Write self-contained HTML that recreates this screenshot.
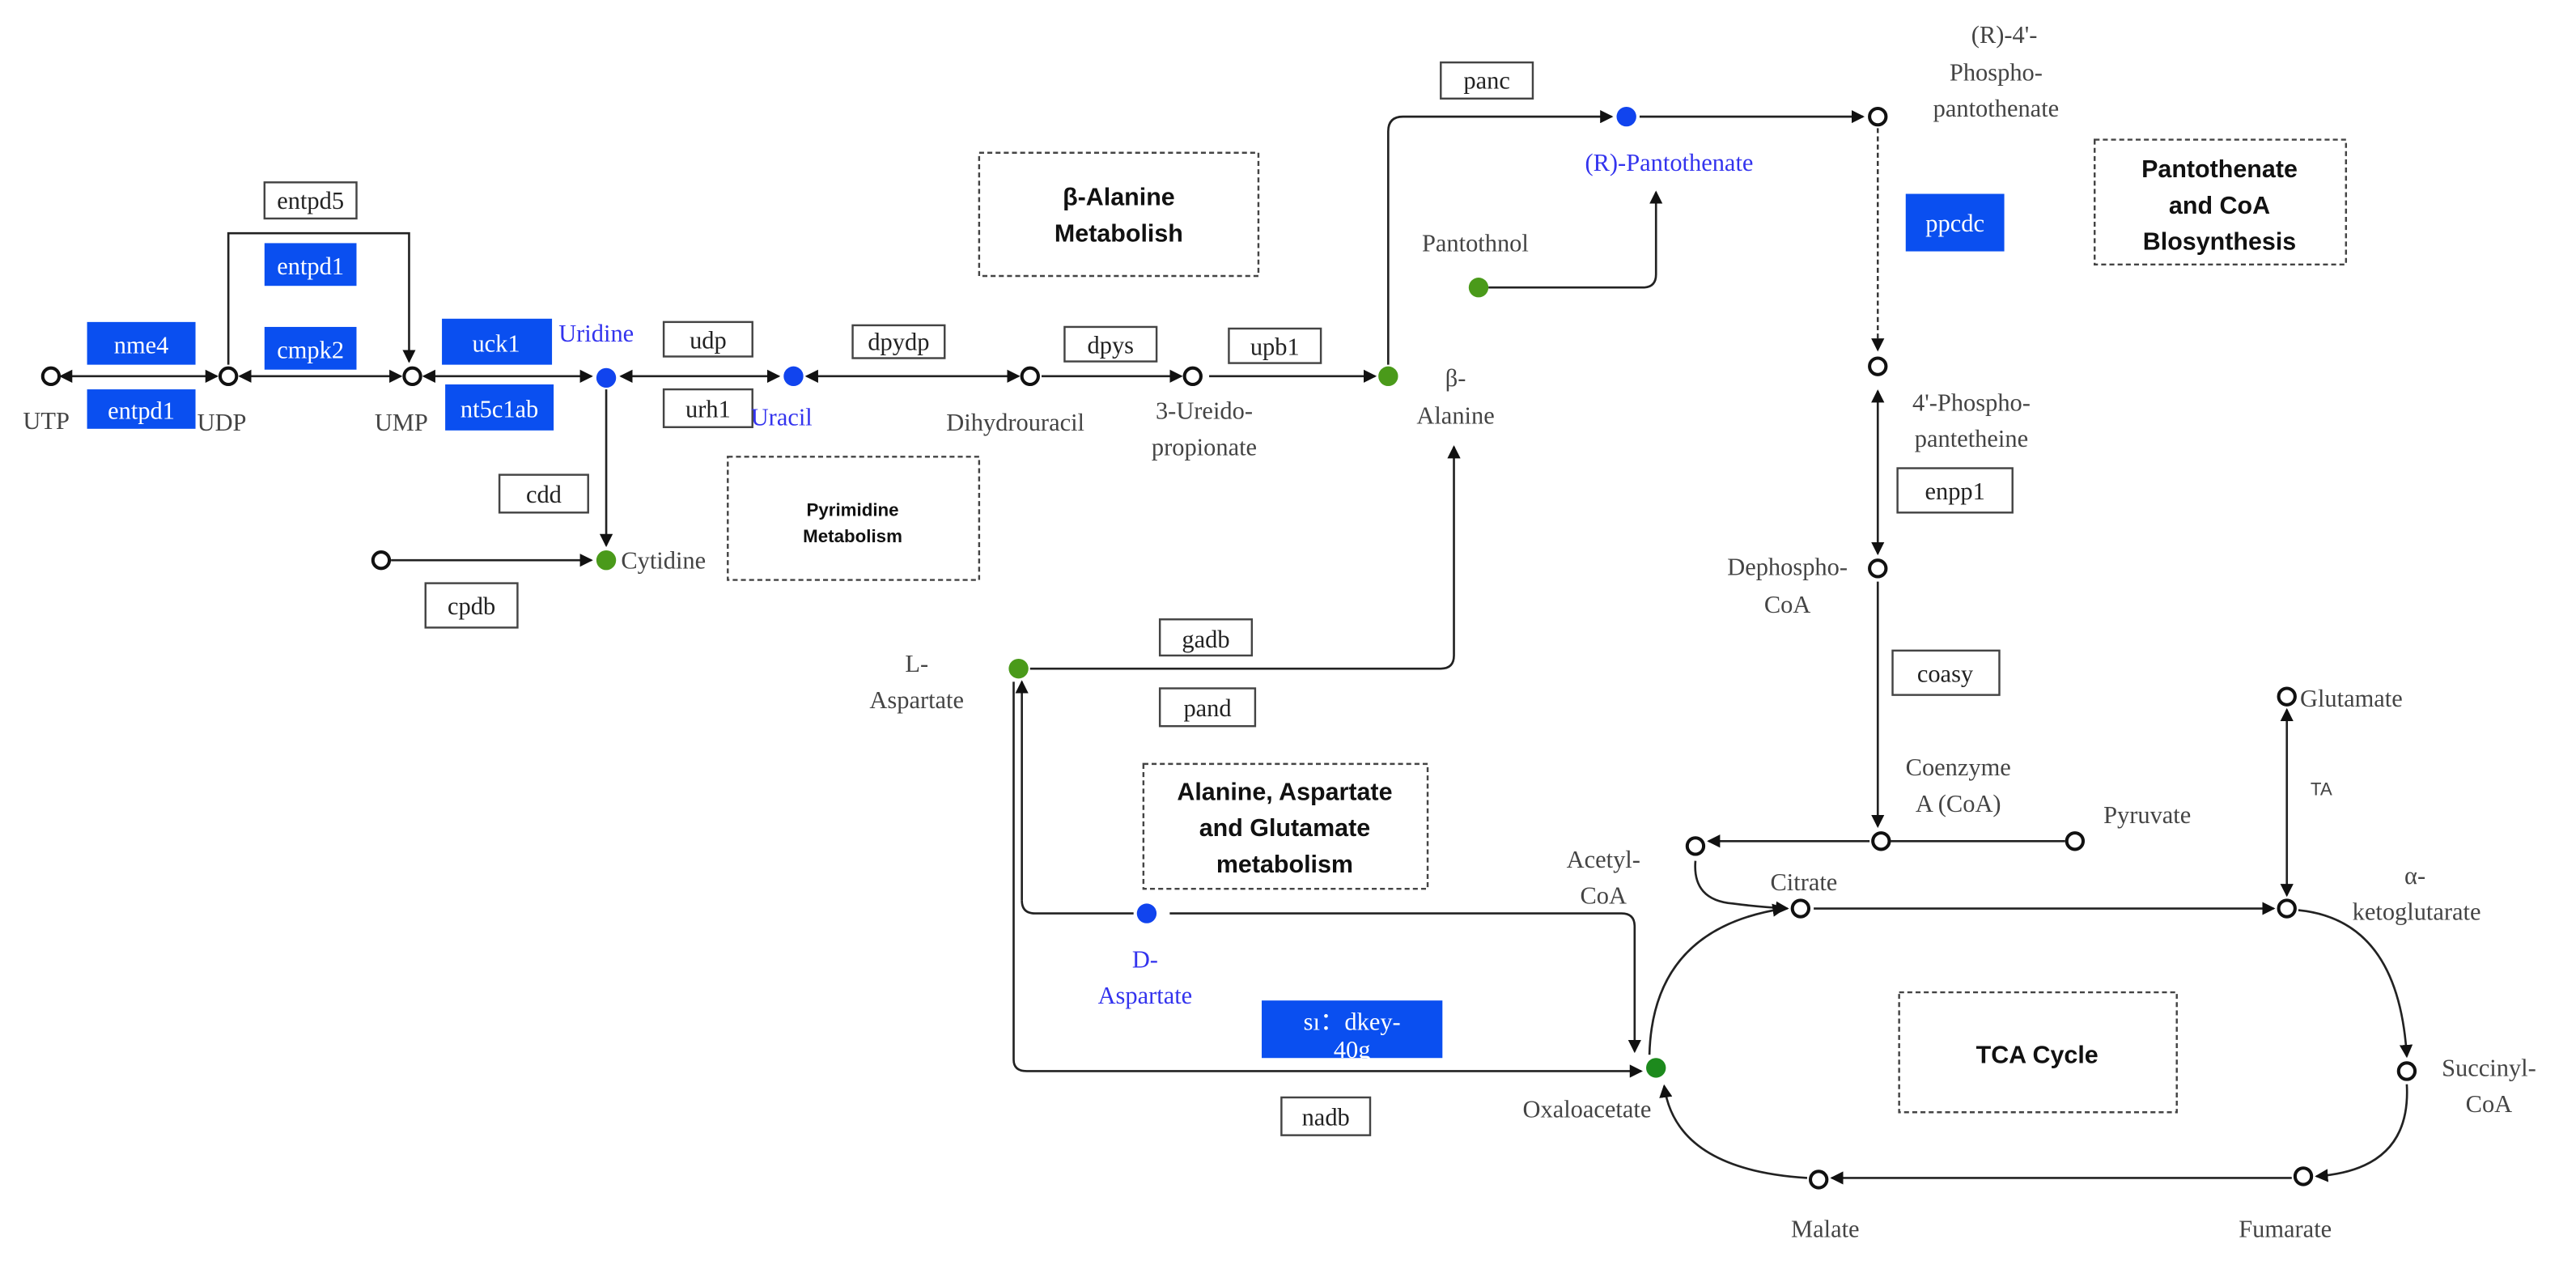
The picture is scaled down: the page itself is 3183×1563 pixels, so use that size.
<!DOCTYPE html>
<html><head><meta charset="utf-8"><style>
html,body{margin:0;padding:0;background:#fff;}
svg{display:block;}
.t{font-family:"Liberation Serif",serif;font-size:15px;fill:#444;}
.b{font-family:"Liberation Serif",serif;font-size:15px;fill:#3333ee;}
.w{font-family:"Liberation Serif",serif;font-size:15px;fill:#fff;}
.h{font-family:"Liberation Sans",sans-serif;font-weight:bold;font-size:15px;fill:#111;}
.bx{fill:#fff;stroke:#444;stroke-width:1.2;}
.bl{fill:#0a4ff0;}
.dash{fill:none;stroke:#444;stroke-width:1.2;stroke-dasharray:3,2;}
.l{fill:none;stroke:#222;stroke-width:1.3;}
.oc{fill:#fff;stroke:#111;stroke-width:2;}
</style></head><body>
<svg width="3183" height="1563" viewBox="0 0 1568 770" preserveAspectRatio="none" xmlns="http://www.w3.org/2000/svg">
<defs>
<marker id="a" markerWidth="8" markerHeight="8" refX="7" refY="4" orient="auto" markerUnits="userSpaceOnUse"><path d="M0,0 L8,4 L0,8 z" fill="#111"/></marker>
<marker id="s" markerWidth="8" markerHeight="8" refX="1" refY="4" orient="auto" markerUnits="userSpaceOnUse"><path d="M8,0 L0,4 L8,8 z" fill="#111"/></marker>
</defs>
<!-- dashed group boxes -->
<rect class="dash" x="596" y="93" width="170" height="75"/>
<text class="h" x="681" y="125" text-anchor="middle">β-Alanine</text>
<text class="h" x="681" y="147" text-anchor="middle">Metabolish</text>
<rect class="dash" x="443" y="278" width="153" height="75"/>
<text class="h" x="519" y="314" text-anchor="middle" style="font-size:11px">Pyrimidine</text>
<text class="h" x="519" y="330" text-anchor="middle" style="font-size:11px">Metabolism</text>
<rect class="dash" x="1275" y="85" width="153" height="76"/>
<text class="h" x="1351" y="108" text-anchor="middle">Pantothenate</text>
<text class="h" x="1351" y="130" text-anchor="middle">and CoA</text>
<text class="h" x="1351" y="152" text-anchor="middle">Blosynthesis</text>
<rect class="dash" x="696" y="465" width="173" height="76"/>
<text class="h" x="782" y="487" text-anchor="middle">Alanine, Aspartate</text>
<text class="h" x="782" y="509" text-anchor="middle">and Glutamate</text>
<text class="h" x="782" y="531" text-anchor="middle">metabolism</text>
<rect class="dash" x="1156" y="604" width="169" height="73"/>
<text class="h" x="1240" y="647" text-anchor="middle">TCA Cycle</text>

<!-- main row lines -->
<line class="l" x1="37" y1="229" x2="132" y2="229" marker-start="url(#s)" marker-end="url(#a)"/>
<line class="l" x1="146" y1="229" x2="244" y2="229" marker-start="url(#s)" marker-end="url(#a)"/>
<line class="l" x1="258" y1="229" x2="360" y2="229" marker-start="url(#s)" marker-end="url(#a)"/>
<line class="l" x1="378" y1="229" x2="474" y2="229" marker-start="url(#s)" marker-end="url(#a)"/>
<line class="l" x1="491" y1="229" x2="620" y2="229" marker-start="url(#s)" marker-end="url(#a)"/>
<line class="l" x1="634" y1="229" x2="719" y2="229" marker-end="url(#a)"/>
<line class="l" x1="736" y1="229" x2="837" y2="229" marker-end="url(#a)"/>
<path class="l" d="M139,222 V142 H249 V220" marker-end="url(#a)"/>
<line class="l" x1="369" y1="237" x2="369" y2="332" marker-end="url(#a)"/>
<line class="l" x1="238" y1="341" x2="360" y2="341" marker-end="url(#a)"/>
<!-- beta alanine to pantothenate -->
<path class="l" d="M845,222 V80 Q845,71 854,71 H981" marker-end="url(#a)"/>
<line class="l" x1="998" y1="71" x2="1134" y2="71" marker-end="url(#a)"/>
<path class="l" d="M906,175 H1000 Q1008,175 1008,167 V117" marker-end="url(#a)"/>
<line x1="1143" y1="78" x2="1143" y2="213" stroke="#333" stroke-width="1.2" stroke-dasharray="3,2" marker-end="url(#a)"/>
<line class="l" x1="1143" y1="238" x2="1143" y2="337" marker-start="url(#s)" marker-end="url(#a)"/>
<line class="l" x1="1143" y1="354" x2="1143" y2="503" marker-end="url(#a)"/>
<line class="l" x1="1151" y1="512" x2="1257" y2="512"/>
<path class="l" d="M1138,512 Q1090,512 1040,512" marker-end="url(#a)"/>
<path class="l" d="M1032,524 Q1030,548 1055,550 Q1070,552 1088,553" marker-end="url(#a)"/>
<line class="l" x1="1104" y1="553" x2="1384" y2="553" marker-end="url(#a)"/>
<line class="l" x1="1392" y1="432" x2="1392" y2="545" marker-start="url(#s)" marker-end="url(#a)"/>
<path class="l" d="M1399,554 Q1460,560 1465,643" marker-end="url(#a)"/>
<path class="l" d="M1465,660 Q1468,712 1410,716" marker-end="url(#a)"/>
<line class="l" x1="1395" y1="717" x2="1115" y2="717" marker-end="url(#a)"/>
<path class="l" d="M1100,717 Q1020,712 1013,661" marker-end="url(#a)"/>
<path class="l" d="M1004,642 Q1006,565 1086,553" marker-end="url(#a)"/>
<!-- aspartate -->
<path class="l" d="M627,407 H877 Q885,407 885,399 V272" marker-end="url(#a)"/>
<path class="l" d="M622,548 Q622,556 630,556 H690"/>
<line class="l" x1="622" y1="548" x2="622" y2="415" marker-end="url(#a)"/>
<path class="l" d="M712,556 H987 Q995,556 995,564 V640" marker-end="url(#a)"/>
<path class="l" d="M617,415 V645 Q617,652 625,652 H999" marker-end="url(#a)"/>

<!-- circles -->
<circle class="oc" cx="31" cy="229" r="5"/>
<circle class="oc" cx="139" cy="229" r="5"/>
<circle class="oc" cx="251" cy="229" r="5"/>
<circle cx="369" cy="230" r="6" fill="#1144ee"/>
<circle cx="483" cy="229" r="6" fill="#1144ee"/>
<circle class="oc" cx="627" cy="229" r="5"/>
<circle class="oc" cx="726" cy="229" r="5"/>
<circle cx="845" cy="229" r="6" fill="#4a9a1a"/>
<circle class="oc" cx="232" cy="341" r="5"/>
<circle cx="369" cy="341" r="6" fill="#4a9a1a"/>
<circle cx="990" cy="71" r="6" fill="#1144ee"/>
<circle class="oc" cx="1143" cy="71" r="5"/>
<circle cx="900" cy="175" r="6" fill="#4a9a1a"/>
<circle class="oc" cx="1143" cy="223" r="5"/>
<circle class="oc" cx="1143" cy="346" r="5"/>
<circle class="oc" cx="1145" cy="512" r="5"/>
<circle class="oc" cx="1263" cy="512" r="5"/>
<circle class="oc" cx="1032" cy="515" r="5"/>
<circle class="oc" cx="1096" cy="553" r="5"/>
<circle class="oc" cx="1392" cy="553" r="5"/>
<circle class="oc" cx="1392" cy="424" r="5"/>
<circle class="oc" cx="1465" cy="652" r="5"/>
<circle class="oc" cx="1402" cy="716" r="5"/>
<circle class="oc" cx="1107" cy="718" r="5"/>
<circle cx="1008" cy="650" r="6" fill="#1d8a1d"/>
<circle cx="620" cy="407" r="6" fill="#4a9a1a"/>
<circle cx="698" cy="556" r="6" fill="#1144ee"/>

<!-- blue enzyme boxes -->
<rect class="bl" x="53" y="196" width="66" height="26"/><text class="w" x="86" y="215" text-anchor="middle">nme4</text>
<rect class="bl" x="53" y="237" width="66" height="24"/><text class="w" x="86" y="255" text-anchor="middle">entpd1</text>
<rect class="bl" x="161" y="148" width="56" height="26"/><text class="w" x="189" y="167" text-anchor="middle">entpd1</text>
<rect class="bl" x="161" y="199" width="56" height="26"/><text class="w" x="189" y="218" text-anchor="middle">cmpk2</text>
<rect class="bl" x="269" y="194" width="67" height="28"/><text class="w" x="302" y="214" text-anchor="middle">uck1</text>
<rect class="bl" x="271" y="234" width="66" height="28"/><text class="w" x="304" y="254" text-anchor="middle">nt5c1ab</text>
<rect class="bl" x="1160" y="118" width="60" height="35"/><text class="w" x="1190" y="141" text-anchor="middle">ppcdc</text>
<rect class="bl" x="768" y="609" width="110" height="35"/>
<text class="w" x="823" y="627" text-anchor="middle">sı：dkey-</text>
<text class="w" x="823" y="644" text-anchor="middle">40g</text>

<!-- white enzyme boxes -->
<rect class="bx" x="161" y="111" width="56" height="22"/><text class="t" x="189" y="127" text-anchor="middle" style="fill:#222">entpd5</text>
<rect class="bx" x="404" y="196" width="54" height="21"/><text class="t" x="431" y="212" text-anchor="middle" style="fill:#222">udp</text>
<rect class="bx" x="404" y="237" width="54" height="23"/><text class="t" x="431" y="254" text-anchor="middle" style="fill:#222">urh1</text>
<rect class="bx" x="519" y="198" width="56" height="20"/><text class="t" x="547" y="213" text-anchor="middle" style="fill:#222">dpydp</text>
<rect class="bx" x="648" y="199" width="56" height="21"/><text class="t" x="676" y="215" text-anchor="middle" style="fill:#222">dpys</text>
<rect class="bx" x="748" y="200" width="56" height="21"/><text class="t" x="776" y="216" text-anchor="middle" style="fill:#222">upb1</text>
<rect class="bx" x="304" y="289" width="54" height="23"/><text class="t" x="331" y="306" text-anchor="middle" style="fill:#222">cdd</text>
<rect class="bx" x="259" y="355" width="56" height="27"/><text class="t" x="287" y="374" text-anchor="middle" style="fill:#222">cpdb</text>
<rect class="bx" x="877" y="38" width="56" height="22"/><text class="t" x="905" y="54" text-anchor="middle" style="fill:#222">panc</text>
<rect class="bx" x="1155" y="285" width="70" height="27"/><text class="t" x="1190" y="304" text-anchor="middle" style="fill:#222">enpp1</text>
<rect class="bx" x="1152" y="396" width="65" height="27"/><text class="t" x="1184" y="415" text-anchor="middle" style="fill:#222">coasy</text>
<rect class="bx" x="706" y="377" width="56" height="22"/><text class="t" x="734" y="394" text-anchor="middle" style="fill:#222">gadb</text>
<rect class="bx" x="706" y="419" width="58" height="23"/><text class="t" x="735" y="436" text-anchor="middle" style="fill:#222">pand</text>
<rect class="bx" x="780" y="668" width="54" height="23"/><text class="t" x="807" y="685" text-anchor="middle" style="fill:#222">nadb</text>

<!-- labels -->
<text class="t" x="14" y="261">UTP</text>
<text class="t" x="120" y="262">UDP</text>
<text class="t" x="228" y="262">UMP</text>
<text class="b" x="340" y="208">Uridine</text>
<text class="b" x="457" y="259">Uracil</text>
<text class="t" x="576" y="262">Dihydrouracil</text>
<text class="t" x="733" y="255" text-anchor="middle">3-Ureido-</text>
<text class="t" x="733" y="277" text-anchor="middle">propionate</text>
<text class="t" x="886" y="235" text-anchor="middle">β-</text>
<text class="t" x="886" y="258" text-anchor="middle">Alanine</text>
<text class="t" x="378" y="346">Cytidine</text>
<text class="b" x="1016" y="104" text-anchor="middle">(R)-Pantothenate</text>
<text class="t" x="898" y="153" text-anchor="middle">Pantothnol</text>
<text class="t" x="1220" y="26" text-anchor="middle">(R)-4'-</text>
<text class="t" x="1215" y="49" text-anchor="middle">Phospho-</text>
<text class="t" x="1215" y="71" text-anchor="middle">pantothenate</text>
<text class="t" x="1200" y="250" text-anchor="middle">4'-Phospho-</text>
<text class="t" x="1200" y="272" text-anchor="middle">pantetheine</text>
<text class="t" x="1088" y="350" text-anchor="middle">Dephospho-</text>
<text class="t" x="1088" y="373" text-anchor="middle">CoA</text>
<text class="t" x="1192" y="472" text-anchor="middle">Coenzyme</text>
<text class="t" x="1192" y="494" text-anchor="middle">A (CoA)</text>
<text class="t" x="1307" y="501" text-anchor="middle">Pyruvate</text>
<text class="t" x="976" y="528" text-anchor="middle">Acetyl-</text>
<text class="t" x="976" y="550" text-anchor="middle">CoA</text>
<text class="t" x="1098" y="542" text-anchor="middle">Citrate</text>
<text class="t" x="1400" y="430">Glutamate</text>
<text class="t" x="1413" y="484" text-anchor="middle" style="font-size:11px;font-family:'Liberation Sans',sans-serif">TA</text>
<text class="t" x="1470" y="538" text-anchor="middle">α-</text>
<text class="t" x="1471" y="560" text-anchor="middle">ketoglutarate</text>
<text class="t" x="1515" y="655" text-anchor="middle">Succinyl-</text>
<text class="t" x="1515" y="677" text-anchor="middle">CoA</text>
<text class="t" x="1391" y="753" text-anchor="middle">Fumarate</text>
<text class="t" x="1111" y="753" text-anchor="middle">Malate</text>
<text class="t" x="966" y="680" text-anchor="middle">Oxaloacetate</text>
<text class="t" x="558" y="409" text-anchor="middle">L-</text>
<text class="t" x="558" y="431" text-anchor="middle">Aspartate</text>
<text class="b" x="697" y="589" text-anchor="middle">D-</text>
<text class="b" x="697" y="611" text-anchor="middle">Aspartate</text>
</svg>
</body></html>
